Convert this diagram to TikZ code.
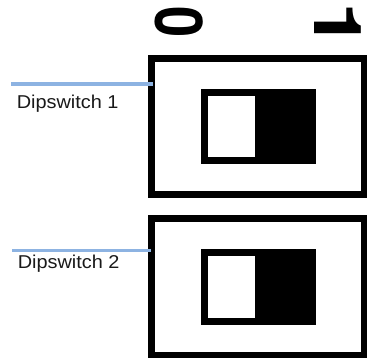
\documentclass[tikz,border=0pt]{standalone}
\usepackage{fontspec}
\setmainfont{Liberation Sans}
\newfontfamily\tagfont[FakeStretch=1.07]{Liberation Sans}
\newfontfamily\digitfont{TeX Gyre Heros}
\usepackage{xcolor}
\usetikzlibrary{positioning}

\definecolor{leaderblue}{RGB}{141,179,226}

\begin{document}
\begin{tikzpicture}[x=1pt, y=-1pt,
  frame/.style={draw=black, line width=7pt, fill=white, inner sep=0pt, minimum width=212.5pt, minimum height=136pt},
  slider/.style={fill=black, inner sep=0pt, minimum width=115pt, minimum height=75pt},
  knob/.style={fill=white, inner sep=0pt, minimum width=47pt, minimum height=61pt},
  leader/.style={draw=leaderblue, line width=3.5pt},
  tag/.style={font=\tagfont\fontsize{18.6}{20}\selectfont, text=black!90, inner sep=0pt, anchor=base west},
  poslabel/.style={font=\digitfont\fontsize{66}{66}\selectfont\bfseries, inner sep=0pt, rotate=-90}]

\useasboundingbox (0,0) rectangle (367,358);

% Switch positions (rotated digits)
\node[poslabel] (off) at (179, 22.5) {\hspace*{-2pt}\scalebox{0.85}[1]{0}\hspace*{-2pt}};
\node[poslabel] (on)  at (338, 25)   {\hspace*{-5pt}\scalebox{1.25}[1]{1}\hspace*{-5pt}};

% Dipswitch 1
\node[frame]  (box1)    at (257.75, 126.5) {};
\node[slider] (switch1) at (258.5, 126.5) {};
\node[knob]   (knob1)   at (231.5, 126.5) {};

% Dipswitch 2
\node[frame, minimum height=136.5pt] (box2) at (257.75, 286.75) {};
\node[slider] (switch2) at (258.5, 287) {};
\node[knob]   (knob2)   at (231.5, 287) {};

% Leader lines
\coordinate (lead1a) at (11, 84);
\coordinate (lead1b) at (153, 84);
\coordinate (lead2a) at (12, 250.5);
\coordinate (lead2b) at (151, 250.5);
\draw[leader] (lead1a) -- (lead1b);
\draw[leader] (lead2a) -- (lead2b);

% Labels
\node[tag] (tag1) at (16.6, 108.3) {Dipswitch 1};
\node[tag] (tag2) at (17.6, 269)   {Dipswitch 2};

\end{tikzpicture}
\end{document}
